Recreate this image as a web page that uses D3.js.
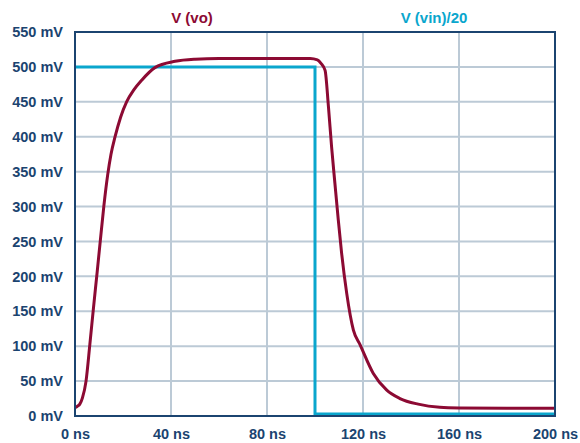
<!DOCTYPE html>
<html><head><meta charset="utf-8">
<script src="https://cdn.jsdelivr.net/npm/d3@7"></script>
<style>body{margin:0;background:#fff}svg{display:block}</style>
</head><body>
<svg id="c" width="580" height="443"></svg>
<script>
const xTicks = [0, 40, 80, 120, 160, 200];
const yTicks = [0, 50, 100, 150, 200, 250, 300, 350, 400, 450, 500, 550];
const voTime = [0, 1, 2, 3.1, 4.6, 6.2, 7.7, 9.2, 10.6, 12, 13.6, 15, 16.7, 19, 21.5, 24.5, 27.8, 33.3, 41.7, 50, 60, 80, 98, 101, 102.5, 104.2, 105.6, 106.9, 108.3, 109.7, 111.1, 113.2, 116, 118.8, 124.3, 129.9, 135.4, 143, 152, 160, 180, 200];
const voValue = [12, 14, 17, 26, 50, 103, 155, 205, 253, 300, 345, 375, 400, 428, 450, 467, 481, 499, 508, 511, 512, 512, 512, 510, 505, 495, 443, 386, 333, 281, 233, 176, 123, 102, 61, 37, 25, 17, 12.5, 11.5, 11, 11];
const vinTime = [0, 100, 100, 200];
const vinValue = [500, 500, 3, 3];
const seriesNames = ["V (vo)", "V (vin)/20"];

const svg = d3.select("#c");
const m = {l: 75, r: 555, t: 32, b: 416};
const x = d3.scaleLinear().domain([0, 200]).range([m.l, m.r]);
const y = d3.scaleLinear().domain([0, 550]).range([m.b, m.t]);
const navy = "#1b4470", grid = "#bccad6", red = "#8c0a33", cyan = "#0aa6cd";
const font = "'Liberation Sans', Arial, sans-serif";

// grid
svg.append("g").selectAll("line").data(yTicks.slice(1, -1)).join("line")
  .attr("x1", m.l).attr("x2", m.r).attr("y1", d => y(d)).attr("y2", d => y(d))
  .attr("stroke", grid).attr("stroke-width", 2);
svg.append("g").selectAll("line").data(xTicks.slice(1, -1)).join("line")
  .attr("y1", m.t).attr("y2", m.b).attr("x1", d => x(d)).attr("x2", d => x(d))
  .attr("stroke", grid).attr("stroke-width", 2);

svg.append("clipPath").attr("id", "clip").append("rect")
  .attr("x", m.l).attr("y", m.t).attr("width", m.r - m.l).attr("height", m.b - m.t);

const lineVin = d3.line().x(i => x(vinTime[i])).y(i => y(vinValue[i]));
svg.append("path").attr("clip-path", "url(#clip)")
  .attr("d", lineVin(d3.range(vinTime.length)))
  .attr("fill", "none").attr("stroke", cyan).attr("stroke-width", 3);

const lineVo = d3.line().x(i => x(voTime[i])).y(i => y(voValue[i])).curve(d3.curveMonotoneX);
svg.append("path").attr("clip-path", "url(#clip)")
  .attr("d", lineVo(d3.range(voTime.length)))
  .attr("fill", "none").attr("stroke", red).attr("stroke-width", 3).attr("stroke-linejoin", "round");

// border
svg.append("rect").attr("x", m.l).attr("y", m.t).attr("width", m.r - m.l).attr("height", m.b - m.t)
  .attr("fill", "none").attr("stroke", navy).attr("stroke-width", 2);

// axes labels via d3 axes
const yAxis = svg.append("g").attr("transform", `translate(${m.l},0)`)
  .call(d3.axisLeft(y).tickValues(yTicks).tickSize(0).tickPadding(12).tickFormat(d => d + " mV"));
yAxis.select(".domain").remove();
yAxis.selectAll("text").attr("fill", navy).attr("font-family", font).attr("font-weight", "bold").attr("font-size", 14.5);

const xAxis = svg.append("g").attr("transform", `translate(0,${m.b})`)
  .call(d3.axisBottom(x).tickValues(xTicks).tickSize(0).tickPadding(13).tickFormat(d => d + " ns"));
xAxis.select(".domain").remove();
xAxis.selectAll("text").attr("fill", navy).attr("font-family", font).attr("font-weight", "bold").attr("font-size", 14.5);

// titles
svg.append("text").attr("x", 192).attr("y", 23).attr("text-anchor", "middle")
  .attr("fill", red).attr("font-family", font).attr("font-weight", "bold").attr("font-size", 15).text(seriesNames[0]);
svg.append("text").attr("x", 434).attr("y", 23).attr("text-anchor", "middle")
  .attr("fill", cyan).attr("font-family", font).attr("font-weight", "bold").attr("font-size", 15).text(seriesNames[1]);
</script>
</body></html>
